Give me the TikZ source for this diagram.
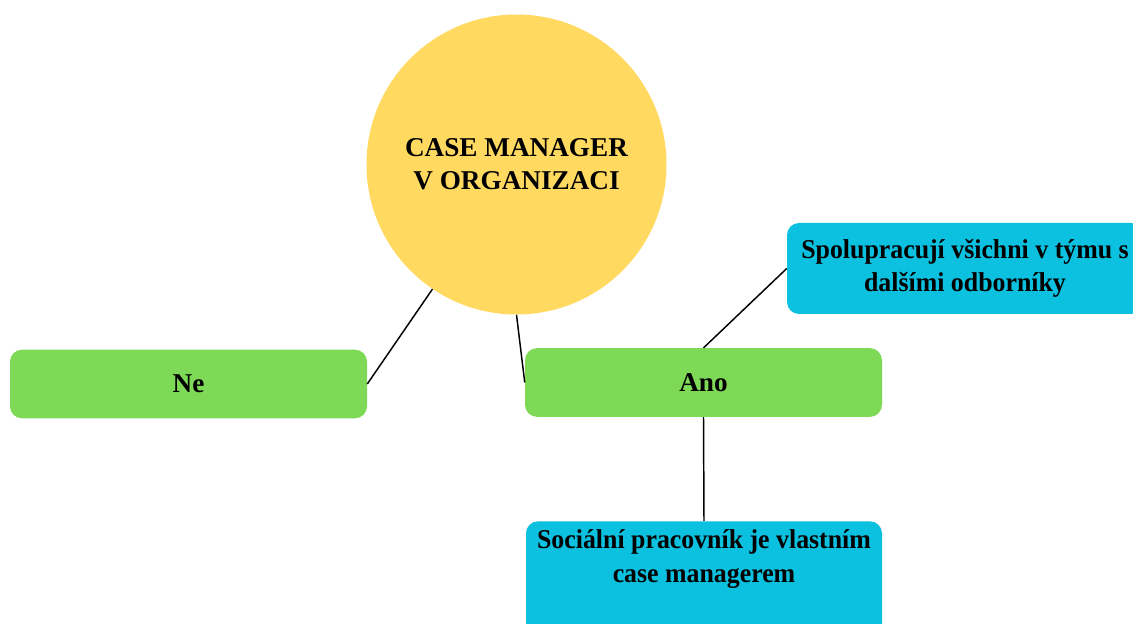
\documentclass[tikz,border=0pt]{standalone}
\usepackage{fontspec}
\setmainfont{Liberation Serif}
\newfontfamily\narrowserif[FakeStretch=0.95]{Liberation Serif}
\definecolor{cmyellow}{HTML}{FFD960}
\definecolor{cmgreen}{HTML}{7ED957}
\definecolor{cmblue}{HTML}{0CC0DF}
\tikzset{
  lbl/.style={font=\fontsize{20.4pt}{25pt}\selectfont\bfseries, text=black, align=center},
  nlbl/.style={font=\narrowserif\fontsize{20.4pt}{25pt}\selectfont\bfseries, text=black, align=center},
  greenbox/.style={lbl, fill=cmgreen, rounded corners=9pt, minimum width=267.75pt, minimum height=51.5pt, inner sep=0pt},
  bluebox/.style={fill=cmblue, rounded corners=9pt, inner sep=0pt},
  conn/.style={draw=black, line width=1.1pt}
}
\begin{document}
\begin{tikzpicture}[x=0.75pt, y=-0.75pt]
\useasboundingbox (0,0) rectangle (1133,624);
\clip (0,0) rectangle (1133,624);
\fill[white] (0,0) rectangle (1133,624);
% central circle
\node[lbl, circle, fill=cmyellow, minimum size=225pt, inner sep=0pt] (c) at (516.5,164.5) {CASE MANAGER\\V ORGANIZACI};
% green boxes
\node[greenbox] (ne) at (188.5,384) {Ne};
\node[greenbox] (ano) at (703.5,382.5) {Ano};
% top blue box
\node[bluebox, nlbl, minimum width=267pt, minimum height=68.25pt] (spol) at (965,268.5) {Spolupracují všichni v týmu s\\dalšími odborníky};
% bottom blue box
\node[bluebox, minimum width=267pt, minimum height=120pt, anchor=north] (soc) at (704,521) {};
\node[nlbl, anchor=base] (soctxt) at (704,582) {Sociální pracovník je vlastním\\case managerem};
% connectors
\draw[conn] (c.236) -- (ne.east);
\draw[conn] (c.south) -- (ano.west);
\draw[conn] (ano.north) -- (spol.west);
\draw[conn] (ano.south) -- (soc.north);
\end{tikzpicture}
\end{document}
